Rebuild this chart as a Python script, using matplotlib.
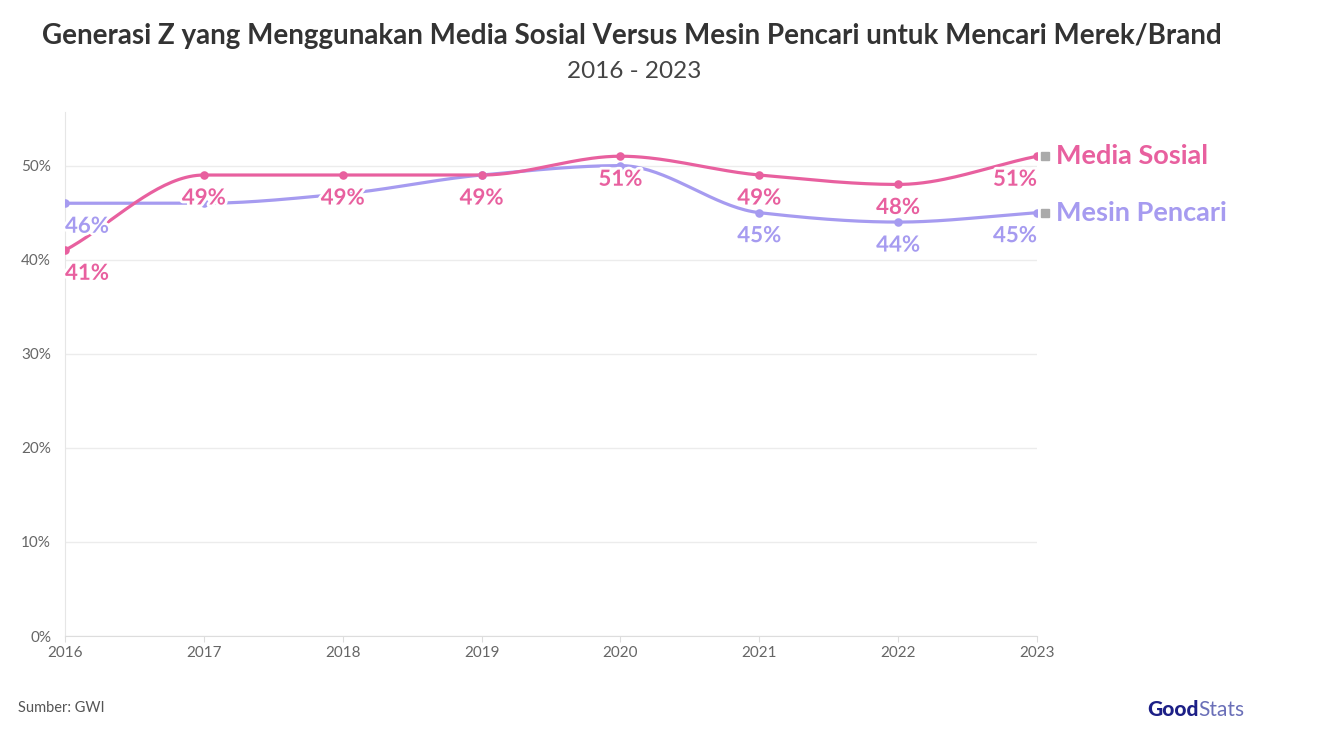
import numpy as np
import matplotlib.pyplot as plt
import matplotlib.patheffects as pe

years = [2016, 2017, 2018, 2019, 2020, 2021, 2022, 2023]
media_sosial = [41, 49, 49, 49, 51, 49, 48, 51]
mesin_pencari = [46, 46, 47, 49, 50, 45, 44, 45]
# which labels are shown for each series
show_ms = [True, True, True, True, True, True, True, True]
show_mp = [True, False, False, False, False, True, True, True]

pink = '#e8609f'
lav = '#a69bf0'


def monotone(x, y, n=40):
    # Fritsch-Carlson monotone cubic, like d3.curveMonotoneX
    x = np.asarray(x, float)
    y = np.asarray(y, float)
    h = np.diff(x)
    d = np.diff(y) / h
    m = np.zeros_like(y)
    m[0], m[-1] = d[0], d[-1]
    for i in range(1, len(y) - 1):
        if d[i - 1] * d[i] <= 0:
            m[i] = 0
        else:
            m[i] = 3 * (h[i - 1] + h[i]) / ((2 * h[i] + h[i - 1]) / d[i - 1] + (h[i] + 2 * h[i - 1]) / d[i])
    xs, ys = [], []
    for i in range(len(h)):
        t = np.linspace(0, 1, n)
        h00 = 2 * t**3 - 3 * t**2 + 1
        h10 = t**3 - 2 * t**2 + t
        h01 = -2 * t**3 + 3 * t**2
        h11 = t**3 - t**2
        xs.append(x[i] + t * h[i])
        ys.append(h00 * y[i] + h10 * h[i] * m[i] + h01 * y[i + 1] + h11 * h[i] * m[i + 1])
    return np.concatenate(xs), np.concatenate(ys)


plt.rcParams['font.family'] = ['Lato', 'DejaVu Sans']
fig = plt.figure(figsize=(13.24, 7.54), dpi=100)
ax = fig.add_axes([65 / 1324, 1 - 636 / 754, (1037 - 65) / 1324, (636 - 112) / 754])

for vals, c in [(mesin_pencari, lav), (media_sosial, pink)]:
    sx, sy = monotone(years, vals)
    ax.plot(sx, sy, color=c, lw=2.3, zorder=3, solid_capstyle='round')
    ax.scatter(years, vals, s=38, color=c, zorder=4, lw=0)

halo = [pe.withStroke(linewidth=4, foreground='white')]
for vals, show, c in [(mesin_pencari, show_mp, lav), (media_sosial, show_ms, pink)]:
    for x, v, s in zip(years, vals, show):
        if s:
            ax.annotate(f'{v}%', (x, v), xytext=(0, -9), textcoords='offset points',
                        ha='left' if x == 2016 else ('right' if x == 2023 else 'center'),
                        va='top', fontsize=16, fontweight='bold', color=c,
                        path_effects=halo, zorder=5)

ax.set_xlim(2016, 2023)
ax.set_ylim(0, 55.7)
ax.set_yticks([0, 10, 20, 30, 40, 50])
ax.set_yticklabels([f'{t}%' for t in [0, 10, 20, 30, 40, 50]])
ax.set_xticks(years)
ax.grid(axis='y', color='#ececec', lw=1)
ax.set_axisbelow(True)
for s in ['top', 'right']:
    ax.spines[s].set_visible(False)
ax.spines['left'].set_color('#e6e6e6')
ax.spines['bottom'].set_color('#dddddd')
ax.tick_params(axis='y', length=0, labelsize=11, colors='#666666', pad=10)
ax.tick_params(axis='x', length=4, color='#dddddd', labelsize=11, labelcolor='#666666', pad=3)

# series end labels
for name, vals, c in [('Media Sosial', media_sosial, pink), ('Mesin Pencari', mesin_pencari, lav)]:
    ax.plot([2023.06], [vals[-1]], marker='s', ms=6, color='#aaaaaa', clip_on=False)
    ax.text(2023.14, vals[-1], name, color=c, fontsize=19.5, fontweight='bold',
            va='center', ha='left', clip_on=False)

fig.text(632 / 1324, 1 - 36 / 754, 'Generasi Z yang Menggunakan Media Sosial Versus Mesin Pencari untuk Mencari Merek/Brand',
         ha='center', va='center', fontsize=20, fontweight='bold', color='#333333')
fig.text(634 / 1324, 1 - 71 / 754, '2016 - 2023', ha='center', va='center', fontsize=17.5, color='#444444')
fig.text(18 / 1324, 1 - 708 / 754, 'Sumber: GWI', ha='left', va='center', fontsize=10.5, color='#555555')
fig.text(1147 / 1324, 1 - 710 / 754, 'Good', ha='left', va='center', fontsize=15, fontweight='black', color='#1c1f86')
fig.text(1198 / 1324, 1 - 710 / 754, 'Stats', ha='left', va='center', fontsize=15, color='#6a6fb8')

fig.savefig('out.png', dpi=100, facecolor='white')
